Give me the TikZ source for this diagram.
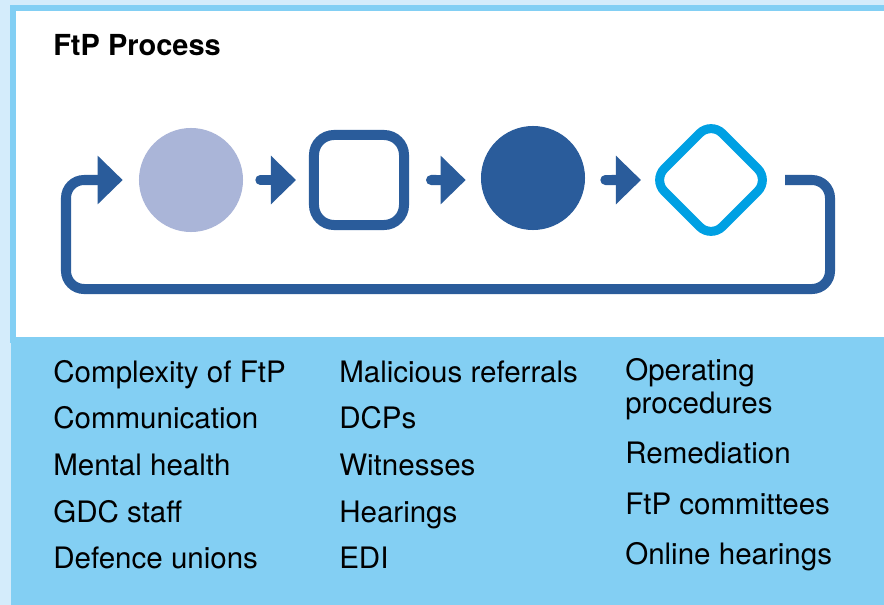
\documentclass[tikz,border=0pt]{standalone}
\usepackage{fontspec}
\setmainfont{TeX Gyre Heros}
\usetikzlibrary{arrows.meta}
\definecolor{pale}{RGB}{212,236,251}
\definecolor{frame}{RGB}{130,207,244}
\definecolor{band}{RGB}{131,207,243}
\definecolor{ftpblue}{RGB}{42,92,155}
\definecolor{lilac}{RGB}{170,181,216}
\definecolor{ftpcyan}{RGB}{0,160,227}
\tikzset{
	item/.style={anchor=base west,inner sep=0pt,font=\fontsize{21}{22.8}\selectfont},
	bigtip/.style={-{Triangle[length=0.625cm,width=1.175cm]}},
	flow/.style={draw=ftpblue,line width=0.25cm,line cap=round,bigtip},
	loopback/.style={draw=ftpblue,line width=0.25cm,rounded corners=0.45cm,bigtip},
}
\begin{document}
\begin{tikzpicture}[x=0.025cm,y=-0.025cm]
		\useasboundingbox (0,0) rectangle (884,605);
		\fill[pale] (0,0) rectangle (884,605);
		\filldraw[fill=white,draw=frame,line width=0.1375cm] (12.75,7.75) rectangle (900,340);
		\fill[band] (11,338) rectangle (884,605);
		\node[item,font=\fontsize{20.6}{24}\selectfont\bfseries] (title) at (53,56) {FtP Process};
		% the four steps
		\node[circle,fill=lilac,inner sep=0pt,minimum size=2.6cm] (c1) at (191,180) {};
		\node[rectangle,draw=ftpblue,line width=0.25cm,rounded corners=0.5cm,
			minimum size=2.25cm] (sq) at (359,180) {};
		\node[circle,fill=ftpblue,inner sep=0pt,minimum size=2.6cm] (c2) at (533,178) {};
		\node[rectangle,rotate=45,draw=ftpcyan,line width=0.225cm,rounded corners=0.4cm,
			minimum size=2.05cm] (dia) at (711,180) {};
		\draw[flow] ([xshift=0.425cm]c1.east) -- ([xshift=-0.325cm]sq.west);
		\draw[flow] ([xshift=0.55cm]sq.east) -- ([xshift=-0.375cm,yshift=-0.05cm]c2.west);
		\draw[flow] ([xshift=0.5cm,yshift=-0.05cm]c2.east) -- ([xshift=-1.75cm]dia.center);
		% back to the start
		\coordinate (loopR) at (830,289);
		\coordinate (loopL) at (66,180);
		\draw[loopback] ([xshift=1.85cm]dia.center) -| (loopR) -| (loopL)
			-- ([xshift=-0.4cm]c1.west);
		% the lists
		\node[item] (complexity) at (53,382) {Complexity of FtP};
		\node[item] (communication) at (53,428) {Communication};
		\node[item] (mental) at (53,475) {Mental health};
		\node[item] (staff) at (53,522) {GDC staff};
		\node[item] (unions) at (53,568) {Defence unions};
		\node[item] (malicious) at (339,382) {Malicious referrals};
		\node[item] (dcps) at (339,428) {DCPs};
		\node[item] (witnesses) at (339,475) {Witnesses};
		\node[item] (hearings) at (339,522) {Hearings};
		\node[item] (edi) at (339,568) {EDI};
		\node[item,align=left] (operating) at (625,413) {Operating\\procedures};
		\node[item] (remediation) at (625,463) {Remediation};
		\node[item] (committees) at (625,514) {FtP committees};
		\node[item] (online) at (625,564) {Online hearings};
	\end{tikzpicture}
\end{document}
